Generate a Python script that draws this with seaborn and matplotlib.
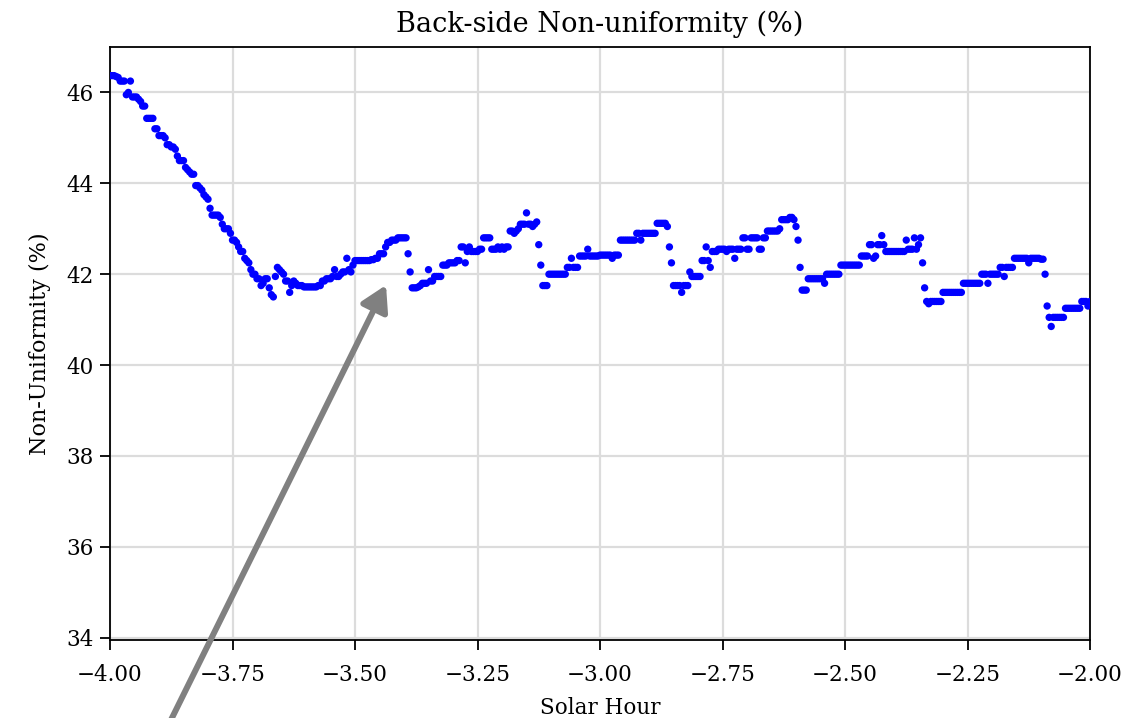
import numpy as np
import pandas as pd
import matplotlib
matplotlib.use("Agg")
import matplotlib.pyplot as plt
import seaborn as sns

# Back-side non-uniformity (%) sampled every 15 s from solar hour -4.00
nonuniformity = [
    46.37, 46.37, 46.37, 46.35, 46.33, 46.25, 46.25, 46.25, 45.95, 46.00, 46.25, 45.90,
    45.90, 45.90, 45.85, 45.80, 45.70, 45.70, 45.43, 45.43, 45.43, 45.43, 45.20, 45.20,
    45.05, 45.05, 45.05, 45.00, 44.85, 44.85, 44.80, 44.80, 44.75, 44.60, 44.50, 44.50,
    44.50, 44.35, 44.30, 44.25, 44.20, 44.20, 43.95, 43.95, 43.90, 43.85, 43.75, 43.70,
    43.65, 43.45, 43.30, 43.30, 43.30, 43.30, 43.25, 43.10, 43.00, 43.00, 43.00, 42.90,
    42.75, 42.75, 42.70, 42.60, 42.50, 42.50, 42.35, 42.30, 42.25, 42.10, 42.00, 42.00,
    41.90, 41.90, 41.75, 41.80, 41.90, 41.90, 41.70, 41.55, 41.50, 41.95, 42.15, 42.10,
    42.05, 42.00, 41.85, 41.85, 41.60, 41.75, 41.85, 41.80, 41.75, 41.75, 41.75, 41.72,
    41.72, 41.72, 41.72, 41.72, 41.72, 41.72, 41.75, 41.75, 41.85, 41.85, 41.90, 41.90,
    41.90, 41.95, 42.10, 41.95, 41.95, 42.00, 42.05, 42.05, 42.35, 42.10, 42.05, 42.20,
    42.30, 42.30, 42.30, 42.30, 42.30, 42.30, 42.30, 42.30, 42.32, 42.32, 42.35, 42.35,
    42.45, 42.45, 42.45, 42.60, 42.70, 42.70, 42.75, 42.75, 42.75, 42.80, 42.80, 42.80,
    42.80, 42.80, 42.45, 42.05, 41.70, 41.70, 41.70, 41.72, 41.75, 41.80, 41.80, 41.80,
    42.10, 41.85, 41.85, 41.95, 41.95, 41.95, 41.95, 42.20, 42.20, 42.20, 42.25, 42.25,
    42.25, 42.25, 42.30, 42.30, 42.60, 42.60, 42.25, 42.50, 42.60, 42.50, 42.50, 42.50,
    42.50, 42.55, 42.55, 42.80, 42.80, 42.80, 42.80, 42.55, 42.55, 42.55, 42.60, 42.55,
    42.60, 42.55, 42.60, 42.60, 42.95, 42.95, 42.90, 42.95, 43.00, 43.10, 43.10, 43.10,
    43.35, 43.10, 43.10, 43.05, 43.10, 43.15, 42.65, 42.20, 41.75, 41.75, 41.75, 42.00,
    42.00, 42.00, 42.00, 42.00, 42.00, 42.00, 42.00, 42.00, 42.15, 42.15, 42.35, 42.15,
    42.15, 42.15, 42.40, 42.40, 42.40, 42.40, 42.55, 42.40, 42.40, 42.40, 42.40, 42.40,
    42.42, 42.42, 42.42, 42.42, 42.42, 42.42, 42.35, 42.42, 42.42, 42.42, 42.75, 42.75,
    42.75, 42.75, 42.75, 42.75, 42.75, 42.75, 42.90, 42.90, 42.75, 42.90, 42.90, 42.90,
    42.90, 42.90, 42.90, 42.90, 43.12, 43.12, 43.12, 43.12, 43.12, 43.05, 42.60, 42.25,
    41.75, 41.75, 41.75, 41.75, 41.60, 41.75, 41.75, 41.75, 42.05, 41.95, 41.95, 41.95,
    41.95, 41.95, 42.30, 42.30, 42.60, 42.30, 42.15, 42.50, 42.50, 42.50, 42.55, 42.55,
    42.55, 42.55, 42.50, 42.55, 42.55, 42.55, 42.35, 42.55, 42.55, 42.55, 42.80, 42.80,
    42.55, 42.55, 42.80, 42.80, 42.80, 42.80, 42.55, 42.55, 42.80, 42.80, 42.95, 42.95,
    42.95, 42.95, 42.95, 42.95, 43.00, 43.20, 43.20, 43.20, 43.20, 43.25, 43.25, 43.20,
    43.05, 42.75, 42.15, 41.65, 41.65, 41.65, 41.90, 41.90, 41.90, 41.90, 41.90, 41.90,
    41.90, 41.90, 41.80, 42.00, 42.00, 42.00, 42.00, 42.00, 42.00, 42.00, 42.20, 42.20,
    42.20, 42.20, 42.20, 42.20, 42.20, 42.20, 42.20, 42.20, 42.40, 42.40, 42.40, 42.40,
    42.65, 42.65, 42.35, 42.40, 42.65, 42.65, 42.85, 42.65, 42.50, 42.50, 42.50, 42.50,
    42.50, 42.50, 42.50, 42.50, 42.50, 42.50, 42.75, 42.55, 42.55, 42.55, 42.80, 42.55,
    42.65, 42.80, 42.25, 41.70, 41.40, 41.35, 41.40, 41.40, 41.40, 41.40, 41.40, 41.40,
    41.60, 41.60, 41.60, 41.60, 41.60, 41.60, 41.60, 41.60, 41.60, 41.60, 41.80, 41.80,
    41.80, 41.80, 41.80, 41.80, 41.80, 41.80, 41.80, 42.00, 42.00, 42.00, 41.80, 42.00,
    42.00, 42.00, 42.00, 42.00, 42.15, 42.15, 41.95, 42.15, 42.15, 42.15, 42.15, 42.35,
    42.35, 42.35, 42.35, 42.35, 42.35, 42.35, 42.25, 42.35, 42.35, 42.35, 42.35, 42.35,
    42.33, 42.33, 42.00, 41.30, 41.05, 40.85, 41.05, 41.05, 41.05, 41.05, 41.05, 41.05,
    41.25, 41.25, 41.25, 41.25, 41.25, 41.25, 41.25, 41.25, 41.40, 41.40, 41.40, 41.30,
    41.40,
]
start_hour = -4.0
step_hours = 15 / 3600
solar_hour = start_hour + step_hours * np.arange(len(nonuniformity))

x_ticks = [-4.00, -3.75, -3.50, -3.25, -3.00, -2.75, -2.50, -2.25, -2.00]
y_ticks = [34, 36, 38, 40, 42, 44, 46]

df = pd.DataFrame({"Solar Hour": solar_hour, "Non-Uniformity (%)": nonuniformity})

sns.set_theme(style="ticks")
plt.rcParams["font.family"] = ["DejaVu Serif"]
plt.rcParams["axes.unicode_minus"] = True

fig = plt.figure(figsize=(11.42, 7.18), dpi=100)
ax = fig.add_axes([110 / 1142, 1 - 640 / 718, 980 / 1142, 593 / 718])

sns.scatterplot(data=df, x="Solar Hour", y="Non-Uniformity (%)", ax=ax,
                color="#0000ff", s=28, edgecolor="none", linewidth=0, zorder=3)

ax.set_xlim(-4.0, -2.0)
ax.set_ylim(33.95, 47.0)
ax.set_xticks(x_ticks)
ax.set_xticklabels([f"{t:.2f}".replace("-", "\u2212") for t in x_ticks])
ax.set_yticks(y_ticks)
ax.grid(True, color="#dcdcdc", linewidth=1.6, zorder=0)
ax.set_axisbelow(True)
for sp in ax.spines.values():
    sp.set_color("black")
    sp.set_linewidth(1.3)
ax.tick_params(axis="both", which="major", direction="out", length=7, width=1.3,
               color="black", labelsize=15.5, labelcolor="black")
ax.tick_params(axis="x", pad=10)
ax.tick_params(axis="y", pad=5)
ax.set_xlabel("Solar Hour", fontsize=15.5, color="black", labelpad=8)
ax.set_ylabel("Non-Uniformity (%)", fontsize=16, color="black", labelpad=11)
ax.set_title("Back-side Non-uniformity (%)", fontsize=19.5, color="black", pad=11)

ax.annotate("", xy=(-3.4367, 41.76), xycoords="data",
            xytext=(0.1445, -0.0195), textcoords="figure fraction",
            annotation_clip=False, zorder=10,
            arrowprops=dict(arrowstyle="-|>,head_length=0.6,head_width=0.35",
                            mutation_scale=25, color="#808080", lw=4.3,
                            shrinkA=0, shrinkB=0))

fig.savefig("out.png", dpi=100)
